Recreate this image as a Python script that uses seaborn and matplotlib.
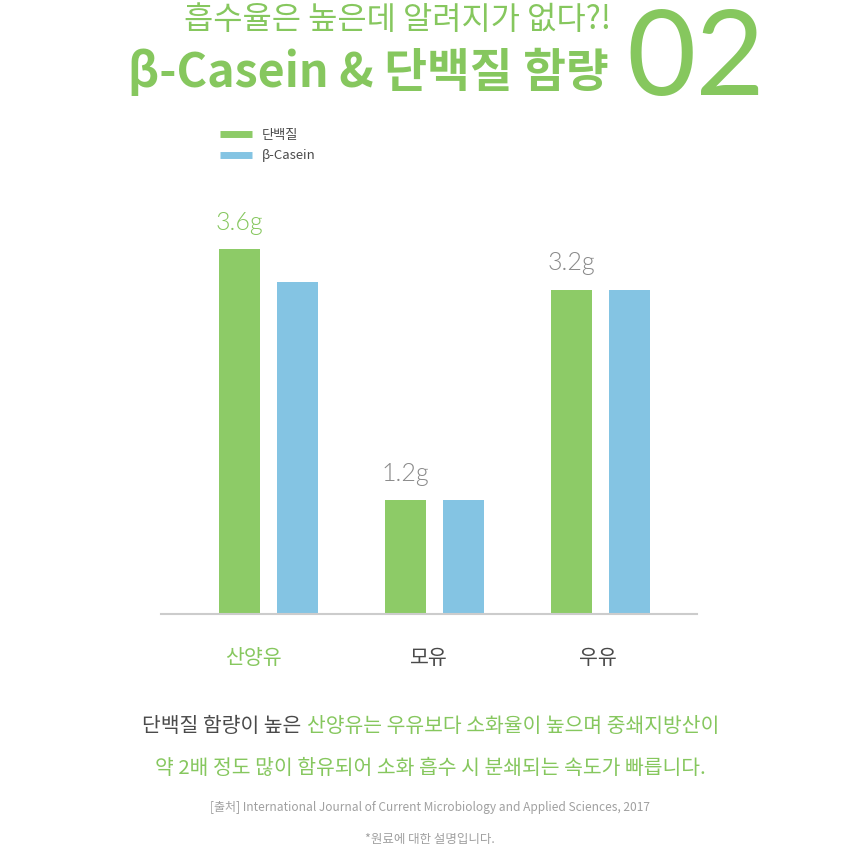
import matplotlib
matplotlib.use("Agg")
import matplotlib.pyplot as plt
import matplotlib.transforms as mtransforms
from matplotlib.lines import Line2D
import seaborn as sns
import pandas as pd

# ---- data ----
categories = ['산양유', '모유', '우유']
series_names = ['단백질', 'β-Casein']
protein = [3.6, 1.12, 3.2]
casein = [3.27, 1.12, 3.2]
value_labels = ['3.6g', '1.2g', '3.2g']

GREEN = '#8DCB67'
BLUE = '#84C4E3'
GREEN_TXT = '#86C75E'
DARK = '#4A4A4A'
GREY = '#8A8A8A'
LIGHT = '#A0A0A0'

df = pd.DataFrame({
    'cat': categories * 2,
    'series': [series_names[0]] * 3 + [series_names[1]] * 3,
    'value': protein + casein,
})

sns.set_theme(style='white')
plt.rcParams['font.family'] = ['Noto Sans CJK KR', 'DejaVu Sans']
LIGHT_FAMILY = ['Lato', 'Noto Sans CJK KR', 'DejaVu Sans']

W = H = 860
fig = plt.figure(figsize=(8.6, 8.6), dpi=100)

def fx(x):
    return x / W

def fy(y):
    return 1 - y / H

ax_top = 180
ax_bot = 614
ax = fig.add_axes([fx(161), fy(ax_bot), fx(697) - fx(161), (ax_bot - ax_top) / H])

sns.barplot(data=df, x='cat', y='value', hue='series', order=categories,
            hue_order=series_names, palette=[GREEN, BLUE], width=0.699,
            gap=0.292, ax=ax, legend=False, saturation=1, linewidth=0)

ax.set_xlim(-0.648, 2.581)
ax.set_ylim(0, (ax_bot - ax_top) / 101.4)
ax.set_xlabel('')
ax.set_ylabel('')
ax.set_yticks([])
for s in ['top', 'left', 'right']:
    ax.spines[s].set_visible(False)
ax.spines['bottom'].set_color('#CCCCCC')
ax.spines['bottom'].set_linewidth(1.5)
ax.tick_params(axis='x', length=0, pad=24, labelsize=14.8)
label_shift_px = [-15, -6, -3]
for i, lbl in enumerate(ax.get_xticklabels()):
    lbl.set_color(GREEN_TXT if i == 0 else DARK)
    lbl.set_fontweight('medium')
    off = mtransforms.ScaledTranslation(label_shift_px[i] / 100, 0, fig.dpi_scale_trans)
    lbl.set_transform(lbl.get_transform() + off)

# value labels over the first-series bars
green_bars = [p for p in ax.patches if p.get_height() > 0][:3]
for i, (bar, txt) in enumerate(zip(green_bars, value_labels)):
    cx = bar.get_x() + bar.get_width() / 2
    ax.annotate(txt, (cx, bar.get_height()), xytext=(0, 14), textcoords='offset points',
                ha='center', va='baseline', fontsize=18, fontweight=300,
                family=LIGHT_FAMILY, color=GREEN_TXT if i == 0 else GREY)

# legend
handles = [Line2D([0], [0], color=GREEN, lw=5, solid_capstyle='butt'),
           Line2D([0], [0], color=BLUE, lw=5, solid_capstyle='butt')]
fig.legend(handles, series_names, loc='upper left', bbox_to_anchor=(fx(220), fy(129)),
           frameon=False, fontsize=9.5, handlelength=2.4, handletextpad=0.75,
           labelspacing=0.55, borderpad=0, borderaxespad=0, labelcolor=DARK)

# titles
fig.text(fx(398), fy(20), '흡수율은 높은데 알려지가 없다?!', ha='center', va='center',
         fontsize=22.9, color=GREEN_TXT, fontweight='medium')
fig.text(fx(368), fy(73), 'β-Casein & 단백질 함량', ha='center', va='center',
         fontsize=33.5, color=GREEN_TXT, fontweight='bold')
fig.text(fx(696), fy(95), '02', ha='center', va='baseline', fontsize=86,
         color=GREEN_TXT, fontweight='normal', family=LIGHT_FAMILY)

# bottom description
fs = 14.7
fig.text(fx(301), fy(727), '단백질 함량이 높은', ha='right', va='center',
         fontsize=fs, color=DARK)
fig.text(fx(307), fy(727), '산양유는 우유보다 소화율이 높으며 중쇄지방산이', ha='left',
         va='center', fontsize=fs, color=GREEN_TXT, fontweight='medium')
fig.text(fx(430), fy(769), '약 2배 정도 많이 함유되어 소화 흡수 시 분쇄되는 속도가 빠릅니다.',
         ha='center', va='center', fontsize=fs, color=GREEN_TXT, fontweight='medium')
fig.text(fx(430), fy(808),
         '[출처] International Journal of Current Microbiology and Applied Sciences, 2017',
         ha='center', va='center', fontsize=8.6, color=LIGHT, fontweight='light')
fig.text(fx(430), fy(840), '*원료에 대한 설명입니다.', ha='center', va='center',
         fontsize=9, color=LIGHT, fontweight='light')

fig.savefig('out.png', dpi=100, facecolor='white')
